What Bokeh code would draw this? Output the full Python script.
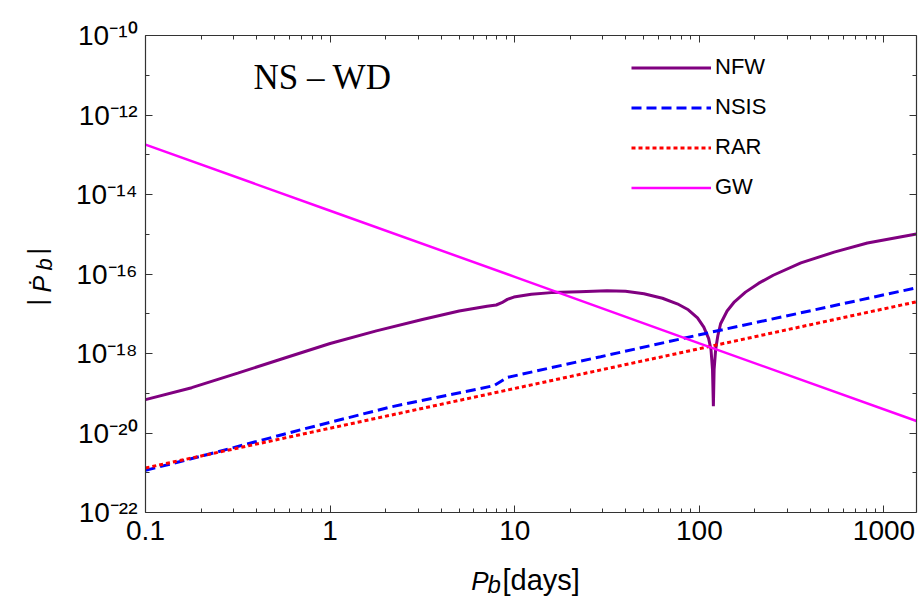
from bokeh.plotting import figure
from bokeh.layouts import row, column
from bokeh.models import (LogAxis, FixedTicker, CustomJSTickFormatter, Legend, LegendItem,
                          Label, Range1d)
from bokeh.core.properties import value
from bokeh.embed import file_html
from bokeh.resources import INLINE

# ---- data ----
p_nfw = [0.1, 0.178, 0.316, 0.562, 1.0, 1.78, 3.16, 5.0, 7.08, 7.94, 8.51, 9.12, 9.89, 10.7,
         12.3, 15.8, 22.4, 31.6, 39.8, 50.1, 63.1, 75.9, 87.1, 97.7, 105.7, 112.2, 115.6,
         117.8, 119.1, 120.2, 122.5, 125.9, 130.3, 141.3, 154.9, 177.8, 208.9, 251.2, 354.8,
         537.0, 813.0, 1500.0]
pdot_nfw = [6.9e-20, 1.38e-19, 3.2e-19, 7.6e-19, 1.78e-18, 3.7e-18, 7.2e-18, 1.17e-17, 1.55e-17,
            1.66e-17, 1.9e-17, 2.3e-17, 2.63e-17, 2.8e-17, 3.1e-17, 3.4e-17, 3.6e-17, 3.8e-17,
            3.7e-17, 3.2e-17, 2.45e-17, 1.78e-17, 1.26e-17, 7.9e-18, 4.6e-18, 2.4e-18, 1.26e-18,
            4.0e-19, 4.7e-20, 4.0e-19, 1.26e-18, 2.8e-18, 5.6e-18, 1.17e-17, 2.0e-17, 3.5e-17,
            5.8e-17, 9.3e-17, 1.9e-16, 3.55e-16, 6.0e-16, 1.02e-15]

p_nsis = [0.1, 0.2, 0.69, 2.12, 7.7, 9.1, 29.2, 108.0, 1500.0]
pdot_nsis = [1.15e-21, 2.6e-21, 1.2e-20, 4.5e-20, 1.55e-19, 2.5e-19, 8.3e-19, 3.2e-18, 4.5e-17]

p_rar = [0.1, 1.0, 10.0, 100.0, 1500.0]
pdot_rar = [1.32e-21, 1.32e-20, 1.32e-19, 1.32e-18, 2.0e-17]

p_gw = [0.1, 1.0, 10.0, 100.0, 1500.0]
pdot_gw = [1.8e-13, 3.9e-15, 8.5e-17, 1.8e-18, 2.0e-20]

x_ticks = [0.1, 1, 10, 100, 1000]
x_minor = [m * 10.0 ** e for e in range(-1, 4) for m in range(2, 10)]
y_ticks = [1e-22, 1e-20, 1e-18, 1e-16, 1e-14, 1e-12, 1e-10]
y_minor = [1e-21, 1e-19, 1e-17, 1e-15, 1e-13, 1e-11]

series_names = ["NFW", "NSIS", "RAR", "GW"]
series_colors = ["#800080", "#0000ff", "#ff0000", "#ff00ff"]

FONT = "Liberation Sans"
AX = "#333333"

# ---- main plot ----
p = figure(width=860, height=559, x_axis_type="log", y_axis_type="log",
           x_range=Range1d(0.1, 1500), y_range=Range1d(1e-22, 1e-10),
           output_backend="svg", toolbar_location=None, frame_align=False,
           min_border_left=85, min_border_right=4, min_border_top=35, min_border_bottom=47)
p.grid.visible = False
p.outline_line_color = None

r_nfw = p.line(p_nfw, pdot_nfw, line_color=series_colors[0], line_width=3)
r_nsis = p.line(p_nsis, pdot_nsis, line_color=series_colors[1], line_width=3, line_dash="10 5")
r_rar = p.line(p_rar, pdot_rar, line_color=series_colors[2], line_width=3, line_dash="4 3")
r_gw = p.line(p_gw, pdot_gw, line_color=series_colors[3], line_width=2.5)

sup_js = """
const e = Math.round(Math.log10(tick));
const m = {'0':'\u2070','1':'\u00b9','2':'\u00b2','3':'\u00b3','4':'\u2074','5':'\u2075',
           '6':'\u2076','7':'\u2077','8':'\u2078','9':'\u2079','-':'\u207b'};
return '10' + String(e).split('').map(c => m[c]).join('');
"""
x_js = "return tick >= 1 ? String(Math.round(tick)) : String(tick);"
blank_js = "return '';"


def style_axis(ax, labels=True):
    ax.axis_line_color = AX
    ax.axis_line_width = 1.2
    ax.major_tick_line_color = AX
    ax.minor_tick_line_color = AX
    ax.major_tick_in = 7
    ax.major_tick_out = 0
    ax.minor_tick_in = 4
    ax.minor_tick_out = 0
    ax.major_label_text_font = FONT
    ax.major_label_text_font_size = "28px"
    ax.major_label_text_color = "black"
    if not labels:
        ax.formatter = CustomJSTickFormatter(code=blank_js)
        ax.major_label_standoff = 0
        ax.major_label_text_font_size = "1px"


xb = p.xaxis[0]
xb.ticker = FixedTicker(ticks=x_ticks, minor_ticks=x_minor)
xb.formatter = CustomJSTickFormatter(code=x_js)
style_axis(xb)
xb.major_label_standoff = 8
yl = p.yaxis[0]
yl.ticker = FixedTicker(ticks=y_ticks, minor_ticks=y_minor)
yl.formatter = CustomJSTickFormatter(code=sup_js)
style_axis(yl)
yl.major_label_standoff = 8

xt = LogAxis(ticker=FixedTicker(ticks=x_ticks, minor_ticks=x_minor))
style_axis(xt, labels=False)
p.add_layout(xt, "above")
yr = LogAxis(ticker=FixedTicker(ticks=y_ticks, minor_ticks=y_minor))
style_axis(yr, labels=False)
p.add_layout(yr, "right")

legend = Legend(items=[LegendItem(label=n, renderers=[r]) for n, r in
                       zip(series_names, [r_nfw, r_nsis, r_rar, r_gw])],
                location=(486, 312), orientation="vertical",
                glyph_width=80, glyph_height=25, label_height=25, spacing=14,
                label_standoff=4, padding=0, margin=0,
                border_line_color=None, background_fill_alpha=0,
                label_text_font=FONT, label_text_font_size="22px",
                label_text_color="black")
p.add_layout(legend)

p.add_layout(Label(x=108, y=435, x_units="screen", y_units="screen", text="NS \u2013 WD",
                   text_font="Liberation Serif", text_font_size="35px", text_color="black",
                   text_baseline="alphabetic", text_align="left"))

# ---- x axis title strip ----
xl = figure(width=860, height=40, x_range=Range1d(0, 860), y_range=Range1d(0, 40),
            output_backend="svg", toolbar_location=None, frame_align=False,
            x_axis_location=None, y_axis_location=None, min_border=0)
xl.grid.visible = False
xl.outline_line_color = None
xl.text(x=[410.7], y=[18.4], text=["P"], text_font=value(FONT), text_font_style="italic",
        text_font_size="26px", text_baseline="alphabetic", text_color="black")
xl.text(x=[427], y=[15.0], text=["b"], text_font=value(FONT), text_font_style="italic",
        text_font_size="24px", text_baseline="alphabetic", text_color="black")
xl.text(x=[442], y=[19.2], text=["[days]"], text_font=value(FONT),
        text_font_size="29px", text_baseline="alphabetic", text_color="black")

# ---- y axis title strip ----
yt = figure(width=60, height=599, x_range=Range1d(0, 60), y_range=Range1d(0, 599),
            output_backend="svg", toolbar_location=None, frame_align=False,
            x_axis_location=None, y_axis_location=None, min_border=0)
yt.grid.visible = False
yt.outline_line_color = None
ang = 1.5707963267948966
yt.text(x=[36.5], y=[294], text=["|"], angle=ang, text_font=value(FONT),
        text_font_size="25px", text_baseline="alphabetic", text_color="black")
yt.text(x=[41.5], y=[307], text=["\u1e56"], angle=ang, text_font=value(FONT),
        text_font_style="italic", text_font_size="25px", text_baseline="alphabetic",
        text_color="black")
yt.text(x=[43.8], y=[329], text=["b"], angle=ang, text_font=value(FONT),
        text_font_style="italic", text_font_size="22px", text_baseline="alphabetic",
        text_color="black")
yt.text(x=[36.5], y=[345], text=["|"], angle=ang, text_font=value(FONT),
        text_font_size="25px", text_baseline="alphabetic", text_color="black")

layout = row(yt, column(p, xl))
open("out.html", "w").write(file_html(layout, INLINE))
